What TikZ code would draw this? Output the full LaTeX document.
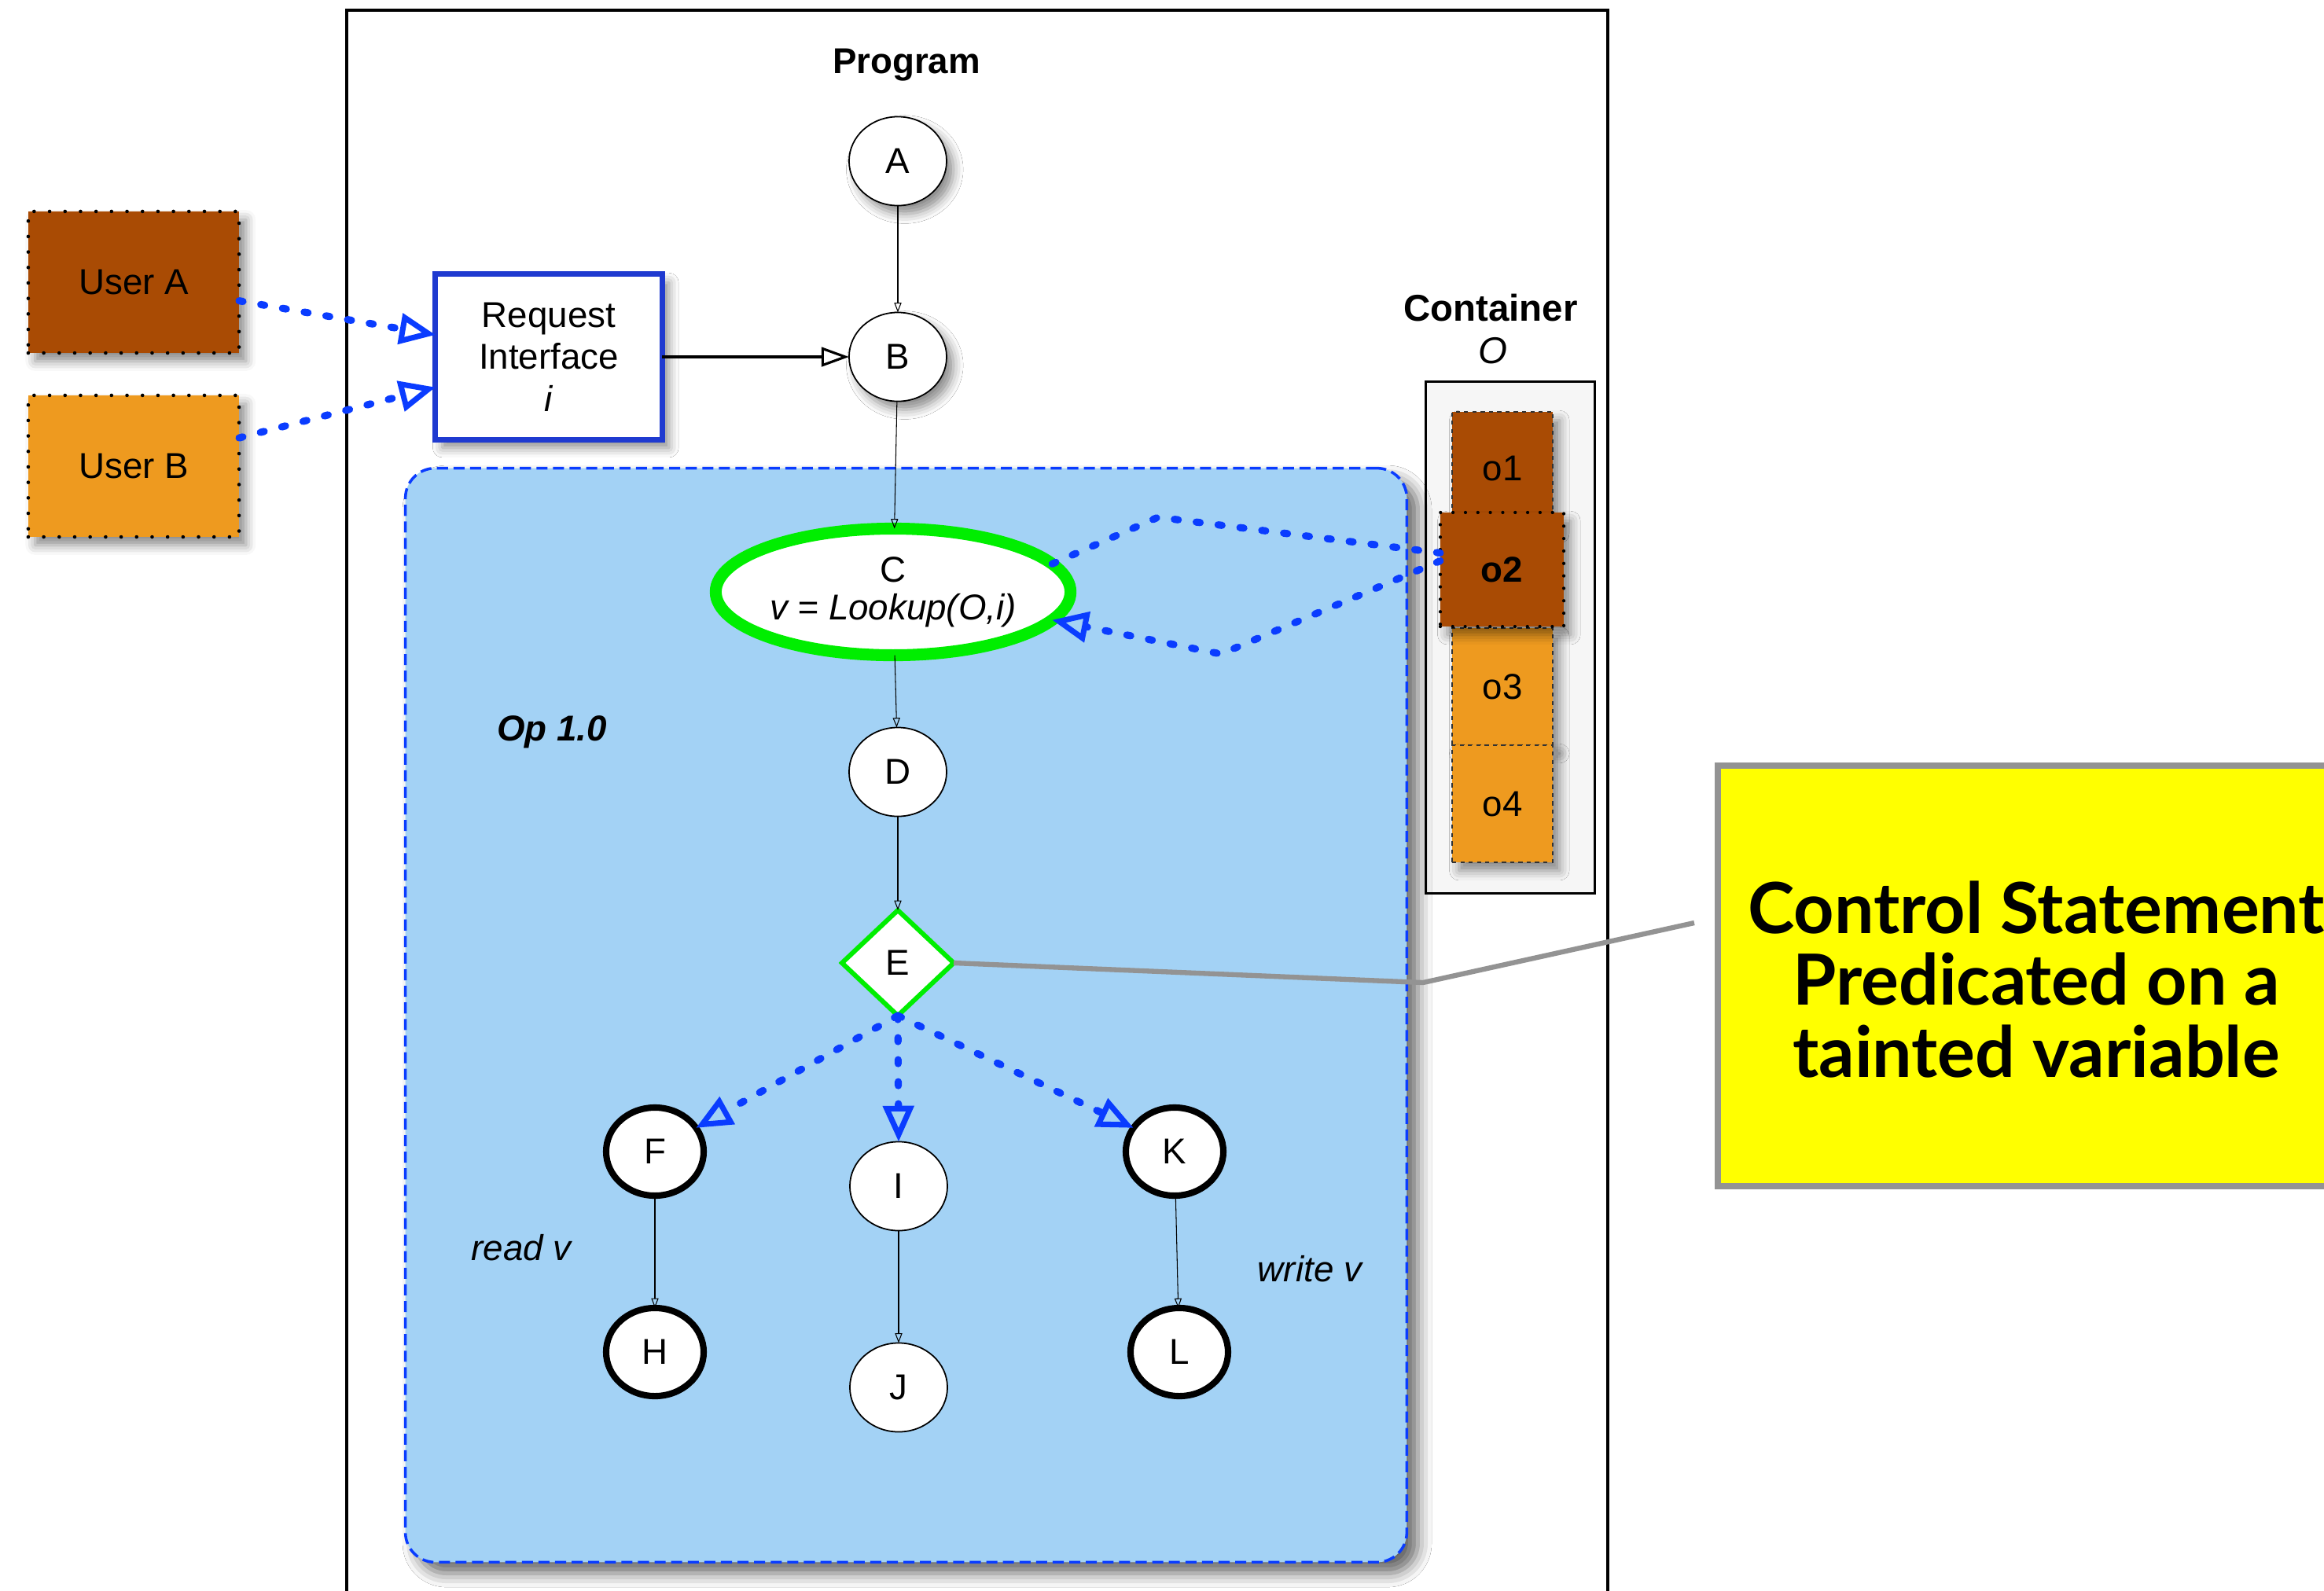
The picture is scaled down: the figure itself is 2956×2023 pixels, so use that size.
\documentclass[tikz,border=0pt]{standalone}
\usepackage{fontspec}
\setmainfont{Liberation Sans}
\newfontfamily\calloutfont{Lato}
\usetikzlibrary{arrows.meta,shapes.geometric,shadows.blur}
\definecolor{userA}{HTML}{A94B04}
\definecolor{userB}{HTML}{EE9A1F}
\definecolor{opblue}{HTML}{A3D2F5}
\definecolor{arrblue}{HTML}{0A3CFF}
\definecolor{riblue}{HTML}{1F3AD0}
\definecolor{lgreen}{HTML}{00EE00}
\definecolor{callgray}{HTML}{939393}
\definecolor{callyellow}{HTML}{FFFF00}
\begin{document}
\begin{tikzpicture}[x=0.01cm,y=-0.01cm,
  every node/.style={font=\fontsize{13}{15.2}\selectfont, inner sep=0pt, outer sep=0pt},
  shd/.style={blur shadow={shadow xshift=2.5pt,shadow yshift=-3pt,shadow blur radius=3.5pt,shadow opacity=45}},
  bigshd/.style={blur shadow={shadow xshift=4pt,shadow yshift=-4pt,shadow blur radius=5pt,shadow opacity=60}},
  ellnode/.style={ellipse,draw=black,line width=0.5pt,fill=white,minimum width=1.24cm,minimum height=1.13cm},
  boldell/.style={ellipse,draw=black,line width=2.3pt,fill=white,minimum width=1.24cm,minimum height=1.12cm},
  flow/.style={draw=black,line width=0.3pt,-{Triangle[open,length=3.5pt,width=2.6pt,line width=0.3pt]}},
  riflow/.style={draw=black,line width=0.9pt,-{Triangle[open,length=10pt,width=7pt,line width=0.9pt]}},
  taint/.style={draw=arrblue,line width=2.6pt,line cap=round,dash pattern=on 0.05cm off 0.23cm,-{Triangle[open,length=13pt,width=11pt,line width=2pt]}},
  taintline/.style={draw=arrblue,line width=2.6pt,line cap=round,dash pattern=on 0.05cm off 0.23cm},
  userbox/.style={rectangle,draw=black,line width=1.3pt,line cap=round,dash pattern=on 0pt off 5.6pt,minimum width=2.68cm,minimum height=1.80cm,shd},
  objbox/.style={rectangle,draw=black!80,line width=0.35pt,dash pattern=on 1.5pt off 1.5pt,minimum width=1.28cm,minimum height=1.24cm,shd},
  lbl/.style={anchor=base},
]
\useasboundingbox (0,0) rectangle (2956,2023);
% program frame
\draw[line width=1pt,fill=white] (441,2100) -- (441,13) -- (2045,13) -- (2045,2100);
\node[lbl,font=\bfseries\fontsize{13}{15}\selectfont] (prog) at (1153,93) {Program};

% users
\node[userbox,fill=userA] (UA) at (170,359) {User A};
\node[userbox,fill=userB] (UB) at (170,593) {User B};

% request interface
\node[rectangle,draw=riblue,line width=2pt,fill=white,minimum width=2.88cm,minimum height=2.10cm,align=center,shd] (RI) at (698,454) {Request\\Interface\\\textit{i}};

% container
\node[lbl,font=\bfseries\fontsize{13.5}{15}\selectfont] (contlbl) at (1896,408) {Container};
\node[lbl,font=\itshape\fontsize{13.5}{15}\selectfont] (contO) at (1899,462) {O};
\node[rectangle,draw=black,line width=1pt,fill=gray!7,minimum width=2.15cm,minimum height=6.51cm] (cont) at (1921,811) {};
\node[objbox,fill=userA,minimum height=1.44cm] (o1) at (1911,596) {o1};
\node[objbox,fill=userB,minimum height=1.49cm] (o3) at (1911,873.5) {o3};
\node[objbox,fill=userB,minimum height=1.49cm] (o4) at (1911,1022.5) {o4};
\node[rectangle,draw=black,line width=1.2pt,line cap=round,dash pattern=on 0pt off 4.5pt,fill=userA,minimum width=1.57cm,minimum height=1.45cm,font=\bfseries\fontsize{13}{15}\selectfont,shd] (o2) at (1910.5,724.5) {o2};

% op box
\node[rectangle,rounded corners=0.38cm,draw=arrblue,line width=1pt,dash pattern=on 4pt off 2pt,fill=opblue,minimum width=12.73cm,minimum height=13.91cm,bigshd] (op) at (1152.5,1291.5) {};
\node[lbl,font=\bfseries\itshape\fontsize{13}{15}\selectfont] (oplbl) at (702,942) {Op 1.0};

% nodes
\node[ellnode,shd] (A) at (1142,205) {A};
\node[ellnode,shd] (B) at (1142,454) {B};
\node[ellipse,draw=lgreen,line width=4.3pt,fill=white,minimum width=4.51cm,minimum height=1.61cm,align=center,font=\fontsize{13}{13.7}\selectfont] (C) at (1136,753) {C\\\textit{v = Lookup(O,i)}};
\node[ellnode] (D) at (1142,982) {D};
\node[diamond,draw=lgreen,line width=1.7pt,fill=white,minimum width=1.42cm,minimum height=1.34cm] (E) at (1142,1225) {E};
\node[boldell] (F) at (833,1465) {F};
\node[boldell] (H) at (833,1720) {H};
\node[ellnode] (I) at (1143,1509) {I};
\node[ellnode] (J) at (1143,1765) {J};
\node[boldell] (K) at (1494,1465) {K};
\node[boldell] (L) at (1500,1720) {L};
\node[lbl,font=\itshape\fontsize{13}{15}\selectfont] (readv) at (663,1603) {read v};
\node[lbl,font=\itshape\fontsize{13}{15}\selectfont] (writev) at (1666,1630) {write v};

% flow edges
\draw[flow] (A) -- (B);
\draw[flow] (B) -- (C);
\draw[flow] (C) -- (D);
\draw[flow] (D) -- (E);
\draw[flow] (F) -- (H);
\draw[flow] (I) -- (J);
\draw[flow] (K) -- (L);
\draw[riflow] (RI.east) -- (B.west);

% tainted edges
\draw[taint] (UA.-10) -- (RI.169);
\draw[taint] (UB.15) -- (RI.195);
\coordinate (cb1) at (1473,658);
\coordinate (cb2) at (1553,832);
\draw[taintline] (C.10) -- (cb1) -- (o2.165);
\draw[taint] (o2.172) -- (cb2) -- (C.-10);
\draw[taint] (E.south) -- (F.30);
\draw[taint] (E.south) -- (I.north);
\draw[taint] (E.south) -- (K.150);

% callout
\coordinate (gbend) at (1810,1250);
\coordinate (gend) at (2155,1174);
\draw[callgray,line width=1.8pt] (E.east) -- (gbend) -- (gend);
\node[rectangle,draw=callgray,line width=2.3pt,fill=callyellow,minimum width=9.5cm,minimum height=5.35cm,anchor=north west] (callout) at (2185,974) {};
\node[font=\calloutfont\bfseries\fontsize{25.5}{25.9}\selectfont,align=center] (calltext) at (2590,1246) {Control Statement\\Predicated on a\\tainted variable};
\end{tikzpicture}
\end{document}
